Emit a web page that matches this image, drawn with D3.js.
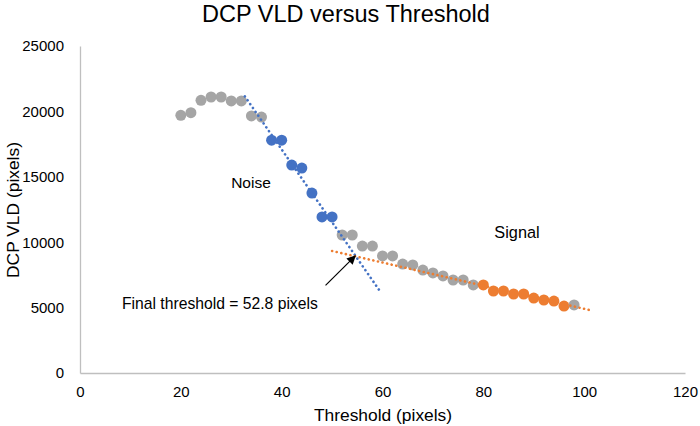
<!DOCTYPE html>
<html>
<head>
<meta charset="utf-8">
<script src="https://cdn.jsdelivr.net/npm/d3@7"></script>
<style>
  body { margin: 0; background: #fff; }
  text { font-family: "Liberation Sans", Arial, sans-serif; fill: #000; }
</style>
</head>
<body>
<svg id="chart" width="700" height="426"></svg>
<script>
// threshold (pixels), every 2 px from 20 to 98
const thresholds = [20, 22, 24, 26, 28, 30, 32, 34, 36, 38, 40, 42, 44, 46, 48, 50, 52, 54, 56, 58,
  60, 62, 64, 66, 68, 70, 72, 74, 76, 78, 80, 82, 84, 86, 88, 90, 92, 94, 96, 98]
const vld = [19700, 19900, 20850, 21100, 21100, 20800, 20800, 19650, 19570, 17800, 17800, 15900, 15670, 13760, 11930, 11930, 10550, 10550, 9700, 9700,
  8950, 8950, 8330, 8260, 7870, 7650, 7420, 7110, 7110, 6730, 6730, 6270, 6270, 6040, 6040, 5730, 5580, 5500, 5120, 5200]
// which fit each point belongs to
const groups = ['other', 'other', 'other', 'other', 'other', 'other', 'other', 'other', 'other', 'noise', 'noise', 'noise', 'noise', 'noise', 'noise', 'noise', 'other', 'other', 'other', 'other',
  'other', 'other', 'other', 'other', 'other', 'other', 'other', 'other', 'other', 'other', 'signal', 'signal', 'signal', 'signal', 'signal', 'signal', 'signal', 'signal', 'signal', 'other']

const noiseTrend = [[32.7, 21150], [59.6, 6200]]
const signalTrend = [[50, 9330], [101, 4820]]
const arrowFrom = [48.7, 6700]
const arrowTo = [54.6, 8950]

const xTicks = [0, 20, 40, 60, 80, 100, 120]
const yTicks = [0, 5000, 10000, 15000, 20000, 25000]

const colors = {other: '#a5a5a5', noise: '#4472c4', signal: '#ed7d31'}

const svg = d3.select('#chart')
const x = d3.scaleLinear().domain([0, 120]).range([80, 685])
const y = d3.scaleLinear().domain([0, 25000]).range([373, 46])

svg.append('defs').append('marker')
  .attr('id', 'head')
  .attr('viewBox', '0 0 10 10')
  .attr('refX', 9).attr('refY', 5)
  .attr('markerWidth', 9).attr('markerHeight', 9)
  .attr('markerUnits', 'userSpaceOnUse')
  .attr('orient', 'auto')
  .append('path')
  .attr('d', 'M0,0 L10,5 L0,10 z')
  .attr('fill', '#000')

// axes: plain grey lines, no ticks
const xAxis = svg.append('g')
  .attr('transform', `translate(0,${y(0)})`)
  .call(d3.axisBottom(x).tickValues(xTicks).tickSize(0).tickPadding(13))
const yAxis = svg.append('g')
  .attr('transform', `translate(${x(0)},0)`)
  .call(d3.axisLeft(y).tickValues(yTicks).tickSize(0).tickPadding(16).tickFormat(d3.format('d')))
for (const g of [xAxis, yAxis]) {
  g.select('.domain').attr('stroke', '#bfbfbf').attr('stroke-width', 1.3)
  g.selectAll('text').attr('font-size', 15).attr('fill', '#000')
    .style('font-family', '"Liberation Sans", Arial, sans-serif')
}

const line = d3.line().x(d => x(d[0])).y(d => y(d[1]))

const points = thresholds.map((t, i) => ({t, v: vld[i], g: groups[i]}))

svg.append('g').selectAll('circle')
  .data(points)
  .join('circle')
  .attr('cx', d => x(d.t))
  .attr('cy', d => y(d.v))
  .attr('r', 5.5)
  .attr('fill', d => colors[d.g])

svg.append('path')
  .attr('d', line(noiseTrend))
  .attr('fill', 'none')
  .attr('stroke', colors.noise)
  .attr('stroke-width', 2.6)
  .attr('stroke-linecap', 'round')
  .attr('stroke-dasharray', '0.1 4.6')

svg.append('path')
  .attr('d', line(signalTrend))
  .attr('fill', 'none')
  .attr('stroke', colors.signal)
  .attr('stroke-width', 2.6)
  .attr('stroke-linecap', 'round')
  .attr('stroke-dasharray', '0.1 4.6')

svg.append('line')
  .attr('x1', x(arrowFrom[0])).attr('y1', y(arrowFrom[1]))
  .attr('x2', x(arrowTo[0])).attr('y2', y(arrowTo[1]))
  .attr('stroke', '#000')
  .attr('stroke-width', 1.2)
  .attr('marker-end', 'url(#head)')

svg.append('text')
  .attr('x', 346).attr('y', 21.5)
  .attr('text-anchor', 'middle')
  .attr('font-size', 23.5)
  .text('DCP VLD versus Threshold')

svg.append('text')
  .attr('x', 383).attr('y', 421)
  .attr('text-anchor', 'middle')
  .attr('font-size', 17.4)
  .text('Threshold (pixels)')

svg.append('text')
  .attr('transform', 'translate(19,210) rotate(-90)')
  .attr('text-anchor', 'middle')
  .attr('font-size', 17.4)
  .text('DCP VLD (pixels)')

svg.append('text')
  .attr('x', 251).attr('y', 188)
  .attr('text-anchor', 'middle')
  .attr('font-size', 15.5)
  .text('Noise')

svg.append('text')
  .attr('x', 517).attr('y', 238)
  .attr('text-anchor', 'middle')
  .attr('font-size', 16.3)
  .text('Signal')

svg.append('text')
  .attr('x', 122).attr('y', 309)
  .attr('font-size', 15.7)
  .text('Final threshold = 52.8 pixels')
</script>
</body>
</html>
